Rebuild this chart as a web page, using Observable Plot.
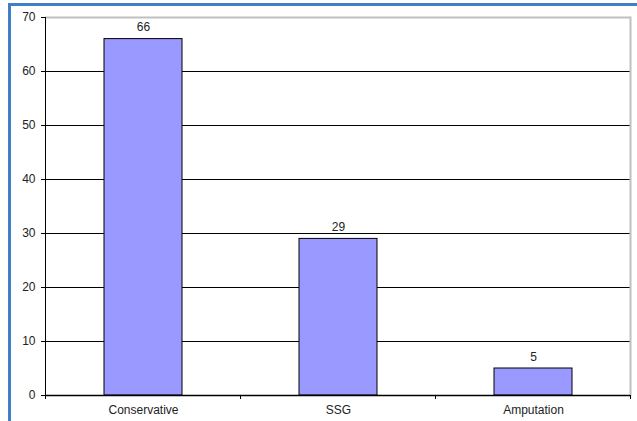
<!DOCTYPE html>
<html>
<head>
<meta charset="utf-8">
<script src="https://cdn.jsdelivr.net/npm/d3@7"></script>
<script src="https://cdn.jsdelivr.net/npm/@observablehq/plot@0.6"></script>
<style>
  html, body { margin: 0; padding: 0; background: #fff; }
  #wrap { position: relative; width: 637px; height: 421px; overflow: hidden; }
  #edge { position: absolute; left: 8px; top: 3px; right: 0; bottom: 0;
          border-top: 3px solid #3f7fc6; border-left: 3px solid #3f7fc6; pointer-events: none; }
  svg { font-family: "Liberation Sans", Arial, sans-serif; }
</style>
</head>
<body>
<div id="wrap"><div id="edge"></div></div>
<script>
// Treatment outcomes: number of cases per category
const categories = ["Conservative", "SSG", "Amputation"];
const counts = [66, 29, 5];
const yTicks = [0, 10, 20, 30, 40, 50, 60, 70];

const rows = categories.map((c, i) => ({category: c, count: counts[i]}));
const gridTicks = yTicks.filter(t => t > 0 && t < 70);

const chart = Plot.plot({
  width: 637,
  height: 421,
  marginLeft: 45,
  marginRight: 7,
  marginTop: 17,
  marginBottom: 26,
  style: {fontFamily: "Liberation Sans, Arial, sans-serif", fontSize: "12px", color: "#222"},
  x: {domain: categories, paddingInner: 0.6, paddingOuter: 0.3, label: null},
  y: {domain: [0, 70], label: null},
  marks: [
    // horizontal gridlines
    Plot.ruleY(gridTicks, {stroke: "#000", strokeWidth: 1}),
    // plot-area border: grey top and right
    Plot.ruleY([70], {stroke: "#c0c0c0", strokeWidth: 2}),
    Plot.frame({anchor: "right", stroke: "#c0c0c0", strokeWidth: 2}),
    Plot.barY(rows, {x: "category", y: "count", fill: "#9999ff", stroke: "#000", strokeWidth: 1}),
    Plot.text(rows, {x: "category", y: "count", text: d => String(d.count), lineAnchor: "bottom", dy: -8, fill: "#222", fontSize: 12}),
    Plot.axisY({ticks: yTicks, tickSize: 4, tickPadding: 6, stroke: "#000", fontSize: 12}),
    Plot.axisX({tickSize: 0, tickPadding: 10, fontSize: 12}),
    Plot.ruleY([0], {stroke: "#000", strokeWidth: 1.5}),
    Plot.frame({anchor: "left", stroke: "#000"})
  ]
});

// category separator ticks below the baseline, at the band edges
const xs = chart.scale("x");
const ys = chart.scale("y");
const step = xs.step;
const edges = [0, 1, 2, 3].map(k => xs.apply(categories[0]) - xs.paddingOuter * step + k * step);
const svg = d3.select(chart);
svg.append("g").attr("stroke", "#000")
  .selectAll("line").data(edges).join("line")
  .attr("x1", d => d).attr("x2", d => d)
  .attr("y1", ys.apply(0)).attr("y2", ys.apply(0) + 4);

document.getElementById("wrap").prepend(chart);
</script>
</body>
</html>
